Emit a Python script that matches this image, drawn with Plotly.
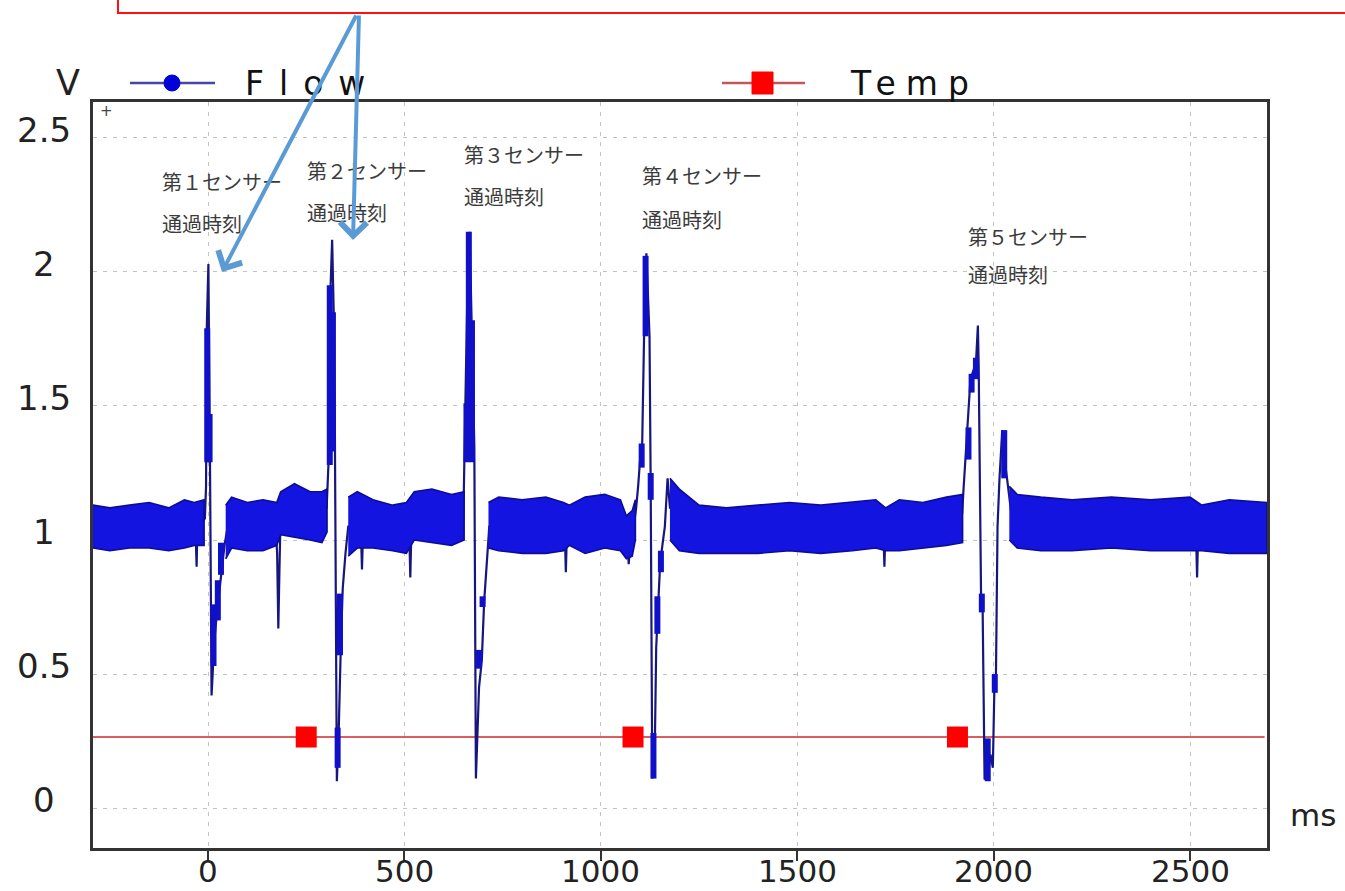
import plotly.graph_objects as go

# ---------------- data ----------------
x_ticks = [0, 500, 1000, 1500, 2000, 2500]
x_tick_text = ["0", "500", "1000", "1500", "2000", "2500"]
y_ticks = [0, 0.5, 1, 1.5, 2, 2.5]
y_tick_text = ["0", "0.5", "1", "1.5", "2", "2.5"]

# Flow signal: centre trace through baseline, glitches and sensor passes (ms, V)
flow_t = [-293, -200, -35, -31, -29, -27, -8, -5, -3, 1, 3, 5, 9, 12, 16, 22, 28, 35, 42, 50,
          172, 176, 179, 182, 185, 302, 305, 308, 311, 316, 320, 323, 328, 333, 338, 343, 350, 357,
          389, 392, 395, 512, 515, 518, 650, 655, 660, 666, 672, 678, 682, 686, 690, 697, 703, 710, 716,
          908, 911, 914, 1068, 1071, 1076, 1083, 1090, 1095, 1100, 1105, 1110, 1116, 1120, 1124, 1127,
          1131, 1135, 1138, 1141, 1145, 1150, 1155, 1163, 1170, 1176, 1719, 1722, 1725,
          1920, 1923, 1928, 1932, 1938, 1941, 1948, 1955, 1960, 1962, 1968, 1972, 1977, 1985, 1992,
          1998, 2002, 2006, 2010, 2015, 2022, 2028, 2035, 2045, 2055, 2515, 2518, 2521, 2696]
flow_v = [1.05, 1.05, 1.05, 1.0, 0.90, 1.05, 1.08, 1.2, 1.8, 2.03, 1.5, 1.3, 0.42, 0.5, 0.62, 0.72, 0.8, 0.9, 0.98, 1.05,
          1.05, 0.95, 0.67, 0.9, 1.1, 1.12, 1.2, 1.33, 1.9, 2.12, 1.85, 1.4, 0.1, 0.3, 0.6, 0.82, 0.95, 1.05,
          1.05, 0.89, 1.05, 1.05, 0.86, 1.05, 1.08, 1.5, 1.9, 2.15, 1.8, 1.35, 0.11, 0.25, 0.45, 0.55, 0.77, 0.92, 1.05,
          1.05, 0.88, 1.05, 1.0, 0.91, 1.0, 1.04, 1.12, 1.2, 1.3, 1.33, 1.75, 2.07, 1.9, 1.76, 1.2,
          0.11, 0.15, 0.28, 0.6, 0.75, 0.88, 0.96, 1.05, 1.23, 1.12, 1.05, 0.90, 1.05,
          1.1, 1.18, 1.3, 1.36, 1.55, 1.6, 1.63, 1.66, 1.80, 1.65, 0.8, 0.75, 0.107, 0.12, 0.2,
          0.15, 0.45, 0.5, 1.05, 1.23, 1.41, 1.3, 1.22, 1.1, 1.05, 1.05, 0.86, 1.05, 1.05]

# Noise envelope of the Flow baseline (None separates the quiet stretches)
band_t = [-293, -250, -200, -150, -100, -60, -35, -10, None,
          45, 60, 100, 140, 175, 185, 220, 260, 290, 303, None,
          357, 380, 420, 470, 505, 525, 570, 620, 652, None,
          714, 740, 800, 860, 905, 920, 960, 1010, 1050, 1065, 1080, 1088, None,
          1176, 1200, 1250, 1320, 1400, 1480, 1560, 1640, 1700, 1725, 1760, 1820, 1880, 1921, None,
          2040, 2060, 2120, 2200, 2300, 2400, 2500, 2530, 2600, 2696]
band_hi = [1.13, 1.12, 1.13, 1.14, 1.12, 1.15, 1.14, 1.15, None,
           1.13, 1.16, 1.14, 1.15, 1.14, 1.18, 1.21, 1.18, 1.18, 1.19, None,
           1.16, 1.18, 1.15, 1.13, 1.14, 1.18, 1.19, 1.17, 1.18, None,
           1.14, 1.16, 1.15, 1.16, 1.14, 1.13, 1.16, 1.17, 1.15, 1.09, 1.11, 1.15, None,
           1.23, 1.19, 1.13, 1.12, 1.13, 1.14, 1.13, 1.14, 1.15, 1.12, 1.15, 1.14, 1.16, 1.17, None,
           1.2, 1.17, 1.16, 1.15, 1.16, 1.15, 1.16, 1.13, 1.15, 1.14]
band_lo = [0.97, 0.96, 0.97, 0.97, 0.96, 0.97, 0.98, 0.98, None,
           0.93, 0.97, 0.96, 0.96, 0.98, 1.02, 1.01, 1.0, 0.99, 1.03, None,
           0.94, 0.97, 0.97, 0.96, 0.95, 1.0, 0.99, 0.98, 1.0, None,
           0.97, 0.96, 0.95, 0.95, 0.96, 0.98, 0.95, 0.97, 0.96, 0.93, 0.94, 1.0, None,
           1.0, 0.96, 0.95, 0.95, 0.95, 0.96, 0.95, 0.96, 0.97, 0.96, 0.96, 0.97, 0.98, 0.99, None,
           1.0, 0.97, 0.96, 0.96, 0.97, 0.96, 0.96, 0.96, 0.95, 0.95]

# Dense oscillation bursts during the sensor passes (ms, low V, high V)
burst_t = [-2, 4, 14, 25, 33, 310, 318, 330, 336, 658, 664, 672, 690, 699,
           1104, 1114, 1127, 1134, 1144, 1153, 1936, 1944, 1955, 1970, 1985, 2003, 2027]
burst_lo = [1.29, 1.29, 0.53, 0.70, 0.87, 1.28, 1.33, 0.15, 0.57, 1.29, 1.30, 1.29, 0.52, 0.75,
            1.27, 1.76, 1.15, 0.11, 0.65, 0.88, 1.30, 1.55, 1.60, 0.73, 0.10, 0.43, 1.23]
burst_hi = [1.79, 1.47, 0.76, 0.85, 0.99, 1.95, 1.85, 0.30, 0.80, 1.51, 2.15, 1.82, 0.59, 0.79,
            1.36, 2.06, 1.25, 0.28, 0.79, 0.96, 1.42, 1.62, 1.68, 0.80, 0.26, 0.50, 1.41]

# Temperature channel
temp_t = [-293, 2690]
temp_v = [0.265, 0.265]
temp_mark_t = [250, 1082, 1908]
temp_mark_v = [0.265, 0.265, 0.265]

sensor_name = ["第１センサー", "第２センサー", "第３センサー", "第４センサー", "第５センサー"]
sensor_sub = ["通過時刻", "通過時刻", "通過時刻", "通過時刻", "通過時刻"]

# ---------------- layout constants ----------------
W, H = 1345, 891
L, R, T, B = 93, 1267, 102, 848          # plot box in pixels
X_RANGE = [-292.8, 2696.0]
Y_RANGE = [-0.149, 2.634]

def px(xp):
    return (xp - L) / (R - L)

def py(yp):
    return (B - yp) / (B - T)

# label anchors (ms, V) for the sensor captions
label_x = [-122, 247, 647, 1100, 1930]
label_y1 = [2.336, 2.377, 2.437, 2.358, 2.134]
label_y2 = [2.179, 2.220, 2.280, 2.194, 1.989]

BLUE_FILL = "#1414e0"
BLUE_EDGE = "#0c0c98"
NAVY = "#16167e"
TEXT_FONT = "DejaVu Sans"
TICK_FONT = dict(family=TEXT_FONT, size=31, color="#222222")

fig = go.Figure()

# Temp line and markers (below the flow trace)
fig.add_trace(go.Scatter(x=temp_t, y=temp_v, mode="lines",
                         line=dict(color="#cc2a2a", width=1.6),
                         name="Temp", showlegend=False, hoverinfo="skip"))
fig.add_trace(go.Scatter(x=temp_mark_t, y=temp_mark_v, mode="markers",
                         marker=dict(symbol="square", size=21, color="#ff0000",
                                     line=dict(width=0)),
                         showlegend=False, hoverinfo="skip"))

# Flow centre trace
fig.add_trace(go.Scatter(x=flow_t, y=flow_v, mode="lines",
                         line=dict(color=NAVY, width=2.2),
                         name="Flow", showlegend=False))

# Flow noise band: one closed polygon per quiet stretch
poly_x, poly_y = [], []
seg_t, seg_hi, seg_lo = [], [], []
for t, hi, lo in list(zip(band_t, band_hi, band_lo)) + [(None, None, None)]:
    if t is None:
        if seg_t:
            poly_x += seg_t + seg_t[::-1] + [None]
            poly_y += seg_hi + seg_lo[::-1] + [None]
        seg_t, seg_hi, seg_lo = [], [], []
    else:
        seg_t.append(t)
        seg_hi.append(hi)
        seg_lo.append(lo)
fig.add_trace(go.Scatter(x=poly_x, y=poly_y, mode="lines", fill="toself",
                         fillcolor=BLUE_FILL, line=dict(color=BLUE_EDGE, width=1.6),
                         showlegend=False, hoverinfo="skip"))

# Oscillation bursts drawn as thick vertical strokes
bx, by = [], []
for t, lo, hi in zip(burst_t, burst_lo, burst_hi):
    bx += [t, t, None]
    by += [lo, hi, None]
fig.add_trace(go.Scatter(x=bx, y=by, mode="lines",
                         line=dict(color="#1010c8", width=6),
                         showlegend=False, hoverinfo="skip"))

annotations = []

# y tick labels (centred under the "V" unit)
for v, txt in zip(y_ticks, y_tick_text):
    annotations.append(dict(x=px(44), xref="paper", y=v, yref="y", text=txt,
                            showarrow=False, xanchor="center", yanchor="middle",
                            yshift=8, font=dict(family=TEXT_FONT, size=34, color="#222222")))

# x tick labels, placed close under the tick marks
for v, txt in zip(x_ticks, x_tick_text):
    annotations.append(dict(x=v, xref="x", y=py(871), yref="paper", text=txt,
                            showarrow=False, xanchor="center", yanchor="middle",
                            font=TICK_FONT))

# sensor captions
for i in range(len(sensor_name)):
    annotations.append(dict(x=label_x[i], y=label_y1[i], xref="x", yref="y",
                            text=sensor_name[i], showarrow=False,
                            xanchor="left", yanchor="middle",
                            font=dict(family="Noto Sans CJK JP", size=20, color="#3c3c3c")))
    annotations.append(dict(x=label_x[i], y=label_y2[i], xref="x", yref="y",
                            text=sensor_sub[i], showarrow=False,
                            xanchor="left", yanchor="middle",
                            font=dict(family="Noto Sans CJK JP", size=20, color="#3c3c3c")))

# unit labels
annotations.append(dict(x=px(68), y=py(83), xref="paper", yref="paper", text="V",
                        showarrow=False, xanchor="center", yanchor="middle",
                        font=dict(family=TEXT_FONT, size=35, color="#222222")))
annotations.append(dict(x=px(1288), y=py(815), xref="paper", yref="paper", text="ms",
                        showarrow=False, xanchor="left", yanchor="middle",
                        font=dict(family=TEXT_FONT, size=31, color="#222222")))
annotations.append(dict(x=px(106), y=py(111), xref="paper", yref="paper", text="+",
                        showarrow=False, xanchor="center", yanchor="middle",
                        font=dict(family=TEXT_FONT, size=15, color="#444444")))

# legend texts
annotations.append(dict(x=px(243), y=py(84), xref="paper", yref="paper",
                        text='<span style="letter-spacing:15px">Flow</span>',
                        showarrow=False, xanchor="left", yanchor="middle",
                        font=dict(family=TEXT_FONT, size=33, color="#111111")))
annotations.append(dict(x=px(848), y=py(84), xref="paper", yref="paper",
                        text='<span style="letter-spacing:10px">Temp</span>',
                        showarrow=False, xanchor="left", yanchor="middle",
                        font=dict(family=TEXT_FONT, size=33, color="#111111")))

# callout arrows
ARROW = "#5b9bd5"
annotations.append(dict(x=px(222), y=py(272), xref="paper", yref="paper", text="",
                        showarrow=True, ax=135, ay=-258, axref="pixel", ayref="pixel",
                        arrowcolor=ARROW, arrowwidth=4, arrowhead=4, arrowsize=1.3,
                        standoff=0, startstandoff=0))
annotations.append(dict(x=px(353), y=py(240), xref="paper", yref="paper", text="",
                        showarrow=True, ax=6, ay=-226, axref="pixel", ayref="pixel",
                        arrowcolor=ARROW, arrowwidth=4, arrowhead=4, arrowsize=1.3,
                        standoff=0, startstandoff=0))

shapes = [
    # callout box at the top of the page
    dict(type="rect", xref="paper", yref="paper",
         x0=px(118), x1=px(1365), y0=py(13), y1=py(-20),
         line=dict(color="#ff1010", width=2), fillcolor="rgba(0,0,0,0)", layer="above"),
    # legend: Flow
    dict(type="line", xref="paper", yref="paper", x0=px(130), x1=px(215), y0=py(83), y1=py(83),
         line=dict(color="#4646a8", width=2.5)),
    dict(type="circle", xref="paper", yref="paper", x0=px(164), x1=px(180), y0=py(91), y1=py(75),
         fillcolor="#0000d8", line=dict(color="#0000d8", width=1)),
    # legend: Temp
    dict(type="line", xref="paper", yref="paper", x0=px(722), x1=px(805), y0=py(83), y1=py(83),
         line=dict(color="#c05858", width=2.5)),
    dict(type="rect", xref="paper", yref="paper", x0=px(752), x1=px(773), y0=py(94), y1=py(72),
         fillcolor="#ff0000", line=dict(color="#ff0000", width=1)),
]

fig.update_layout(
    width=W, height=H,
    margin=dict(l=L, r=W - R, t=T, b=H - B, pad=0, autoexpand=False),
    paper_bgcolor="white", plot_bgcolor="white",
    showlegend=False,
    annotations=annotations,
    shapes=shapes,
    font=dict(family=TEXT_FONT, color="#222222"),
)
fig.update_xaxes(
    range=X_RANGE, tickvals=x_ticks, showticklabels=False,
    automargin=False,
    showgrid=True, gridcolor="#c4c4c4", gridwidth=1.4, griddash="4px,6px",
    zeroline=False, showline=True, mirror=True, linecolor="#333333", linewidth=3,
    ticks="outside", ticklen=10, tickwidth=2, tickcolor="#333333",
)
fig.update_yaxes(
    range=Y_RANGE, tickvals=y_ticks, showticklabels=False, automargin=False,
    showgrid=True, gridcolor="#c4c4c4", gridwidth=1.4, griddash="4px,6px",
    zeroline=False, showline=True, mirror=True, linecolor="#333333", linewidth=2.5,
    ticks="",
)

fig.write_html("out.html")
